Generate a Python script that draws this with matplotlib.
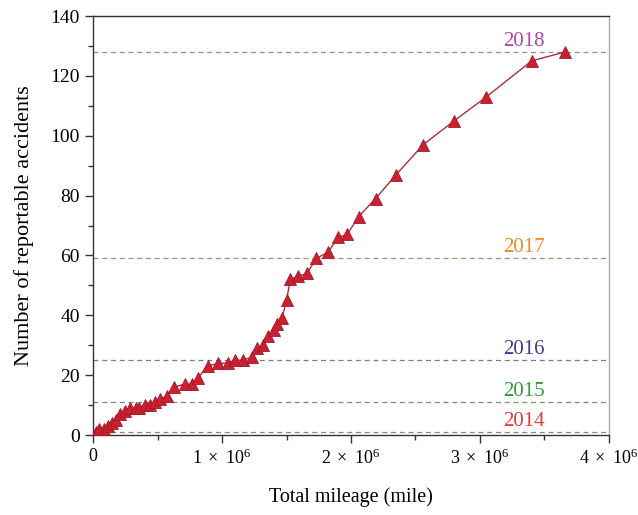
import matplotlib
matplotlib.use("Agg")
import matplotlib.pyplot as plt
from matplotlib.ticker import MultipleLocator, FuncFormatter

plt.rcParams['font.family'] = ['Liberation Serif', 'DejaVu Serif']
plt.rcParams['mathtext.fontset'] = 'custom'
plt.rcParams['mathtext.rm'] = 'Liberation Serif'
plt.rcParams['mathtext.it'] = 'Liberation Serif:italic'

# mileage in millions of miles
mileage_m = [0.02, 0.05, 0.085, 0.12, 0.15, 0.18, 0.21, 0.25, 0.29, 0.33, 0.36,
             0.40, 0.44, 0.48, 0.52, 0.57, 0.63, 0.71, 0.77, 0.81, 0.89, 0.97,
             1.05, 1.10, 1.16, 1.23, 1.27, 1.32, 1.36, 1.40, 1.43, 1.465, 1.50,
             1.53, 1.59, 1.66, 1.73, 1.82, 1.90, 1.97, 2.06, 2.19, 2.35, 2.56,
             2.80, 3.05, 3.40, 3.66]
accidents = [1, 2, 2, 3, 4, 5, 7, 8, 9, 9, 9,
             10, 10, 11, 12, 13, 16, 17, 17, 19, 23, 24,
             24, 25, 25, 26, 29, 30, 33, 35, 37, 39, 45,
             52, 53, 54, 59, 61, 66, 67, 73, 79, 87, 97,
             105, 113, 125, 128]

years = ['2014', '2015', '2016', '2017', '2018']
year_totals = [1, 11, 25, 59, 128]
year_text_colors = ['#e8383a', '#2e9a3e', '#3c3a8e', '#f0882a', '#b044a8']
year_line_colors = ['#a07878', '#7a8a7a', '#7a7a8e', '#a89070', '#9a889a']

fig = plt.figure(figsize=(6.38, 5.15), dpi=100)
ax = fig.add_axes([0.1458, 0.1553, 0.8087, 0.8136])

xs = [m * 1e6 for m in mileage_m]
for yr, tot, tc, lc in zip(years, year_totals, year_text_colors, year_line_colors):
    ax.axhline(tot, color=lc, linestyle=(0, (4, 3)), linewidth=0.9, zorder=1)
    ax.text(3.34e6, tot + 0.4, yr, color=tc, fontsize=15, ha='center', va='bottom')

ax.plot(xs, accidents, color='#a8303a', linewidth=1.0, marker='^', markersize=8,
        markerfacecolor='#cc2030', markeredgecolor='#a01828', markeredgewidth=0.6, zorder=3)

ax.set_xlim(0, 4e6)
ax.set_ylim(0, 140)
ax.xaxis.set_major_locator(MultipleLocator(1e6))
ax.xaxis.set_minor_locator(MultipleLocator(0.5e6))
ax.yaxis.set_major_locator(MultipleLocator(20))
ax.yaxis.set_minor_locator(MultipleLocator(10))

def fmt(v, pos):
    n = int(round(v / 1e6))
    if n == 0:
        return '0'
    return r'$%d\ \times\ 10^{6}$' % n

ax.xaxis.set_major_formatter(FuncFormatter(fmt))
ax.tick_params(which='major', direction='out', length=6, width=1.0, labelsize=14, color='#333333')
ax.tick_params(axis='x', which='major', labelsize=13)
ax.tick_params(which='minor', direction='out', length=3.5, width=1.0, color='#333333')

for s in ['left', 'bottom', 'top']:
    ax.spines[s].set_color('#333333')
    ax.spines[s].set_linewidth(1.0)
ax.spines['right'].set_color('#aaaaaa')
ax.spines['right'].set_linewidth(1.0)

ax.set_xlabel('Total mileage (mile)', fontsize=14.5)
ax.set_ylabel('Number of reportable accidents', fontsize=16)
ax.xaxis.set_label_coords(0.5, -0.125)
ax.yaxis.set_label_coords(-0.115, 0.5)

fig.savefig('out.png', dpi=100)
